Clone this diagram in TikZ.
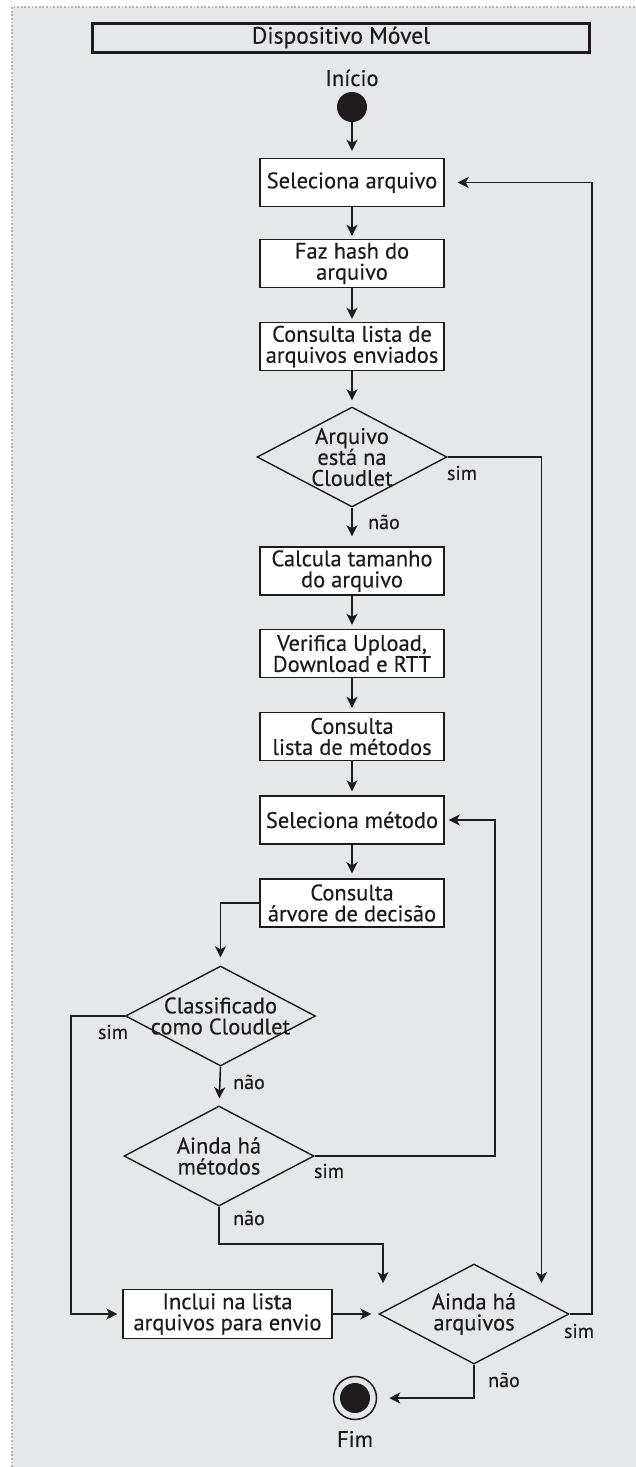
\documentclass[tikz,border=0pt]{standalone}
\usepackage{fontspec}
\setmainfont{PT Sans}[FakeBold=0.3]
\newfontfamily\sketchface{PT Sans}[FakeBold=0.3]
\usetikzlibrary{shapes.geometric,arrows.meta}
\definecolor{panel}{RGB}{230,231,232}
\definecolor{ink}{RGB}{30,27,28}
\definecolor{frame}{RGB}{178,178,178}
\begin{document}
\begin{tikzpicture}[x=1pt,y=-1pt,
  every node/.style={text=ink},
  boxfont/.style={font=\sketchface\addfontfeature{FakeBold=0.3}\fontsize{22.5}{21}\selectfont},
  flow/.style={draw=ink,line width=1.6pt,-{Stealth[length=11pt,width=11pt,inset=3pt]}},
  actbox/.style={boxfont,draw=ink,fill=white,line width=1.4pt,minimum width=184pt,
    minimum height=48pt,inner sep=0pt,align=center},
  decision/.style={draw=ink,line width=1.4pt,shape=diamond,minimum width=190pt,
    minimum height=100pt,inner sep=0pt},
  dtext/.style={boxfont,align=center,inner sep=0pt},
  lbl/.style={font=\sketchface\addfontfeature{FakeBold=0.3}\fontsize{20}{20}\selectfont,inner sep=0pt},
]
\useasboundingbox (0,0) rectangle (636,1467);
% panel with dotted frame
\fill[panel] (12,7) rectangle (636,1467);
\draw[frame,line width=1.8pt,dash pattern=on 1.8pt off 1.8pt] (12,1467) -- (12,7) -- (636,7);

% swimlane title
\node[draw=ink,line width=3pt,minimum width=497pt,minimum height=29pt,inner sep=0pt,
  font=\sketchface\addfontfeature{FakeBold=0.3}\fontsize{23.5}{23.5}\selectfont] (lane) at (341,37.5) {Dispositivo Móvel};

% start
\node[boxfont,inner sep=0pt] (inicioTxt) at (352,78) {Início};
\node[circle,fill=ink,minimum size=30pt,inner sep=0pt] (start) at (352,107) {};

% activities
\node[actbox] (selArq) at (352,182.5) {Seleciona arquivo};
\node[actbox] (hash)   at (352,263.5) {Faz hash do\\arquivo};
\node[actbox] (consEnv) at (352,346.5) {Consulta lista de\\arquivos enviados};
\node[decision,label={[dtext]center:Arquivo\\está na\\Cloudlet}] (d1) at (352,457) {};
\node[actbox] (calc)   at (352,571) {Calcula tamanho\\do arquivo};
\node[actbox] (verif)  at (352,653.5) {Verifica Upload,\\Download e RTT};
\node[actbox] (consMet) at (352,736.5) {Consulta\\lista de métodos};
\node[actbox] (selMet) at (352,820) {Seleciona método};
\node[actbox] (arv)    at (352,903) {Consulta\\árvore de decisão};
\node[decision,label={[dtext]center:Classificado\\como Cloudlet}] (d2) at (220.5,1016) {};
\node[decision,label={[dtext]center:Ainda há\\métodos}] (d3) at (219,1156) {};
\node[actbox,minimum width=209pt,minimum height=49pt] (incl) at (227.5,1314) {Inclui na lista\\arquivos para envio};
\node[decision,label={[dtext]center:Ainda há\\arquivos}] (d4) at (474,1314) {};

% end
\node[circle,draw=ink,line width=1.5pt,minimum size=43pt,inner sep=0pt] (fim) at (355,1398) {};
\fill[ink] (fim.center) circle (15pt);
\node[boxfont,inner sep=0pt] (fimTxt) at (355,1439) {Fim};

% free arrow ends above the last decision
\coordinate (inArqR) at (541.5,1283);
\coordinate (inArqL) at (383,1283);

% main flow
\draw[flow,shorten >=7pt] (start) -- (selArq);
\draw[flow,shorten >=3pt] (selArq) -- (hash);
\draw[flow,shorten >=3pt] (hash) -- (consEnv);
\draw[flow,shorten >=6pt] (consEnv) -- (d1);
\draw[flow,shorten >=10pt] (d1.south) -- (calc);
\draw[flow,shorten >=4pt] (calc) -- (verif);
\draw[flow,shorten >=4pt] (verif) -- (consMet);
\draw[flow,shorten >=4pt] (consMet) -- (selMet);
\draw[flow,shorten >=5pt] (selMet) -- (arv);
\draw[flow,shorten >=8pt] (arv.west) -| (d2.north);
\draw[flow,shorten >=7pt] (d2.south) -- (d3.north);
\draw[flow,shorten >=5pt] (d2.west) -- ++(-54,0) |- (incl.west);
\draw[flow,shorten >=4pt] (d3.east) -- ++(180,0) |- (selMet.east);
\draw[flow] (d3.south) -- ++(0,37) -| (inArqL);
\draw[flow] (d1.east) -| (inArqR);
\draw[flow,shorten >=7pt] (incl.east) -- (d4.west);
\draw[flow,shorten >=13pt] (d4.east) -- ++(22,0) |- (selArq.east);
\draw[flow,shorten >=12pt] (d4.south) |- (fim.east);

% branch labels
\node[lbl] (l1s) at (462,473) {sim};
\node[lbl] (l1n) at (384,522) {não};
\node[lbl] (l2s) at (113,1032) {sim};
\node[lbl] (l2n) at (249,1082) {não};
\node[lbl] (l3s) at (329,1171) {sim};
\node[lbl] (l3n) at (249,1218) {não};
\node[lbl] (l4s) at (579,1331) {sim};
\node[lbl] (l4n) at (504,1380) {não};
\end{tikzpicture}
\end{document}
